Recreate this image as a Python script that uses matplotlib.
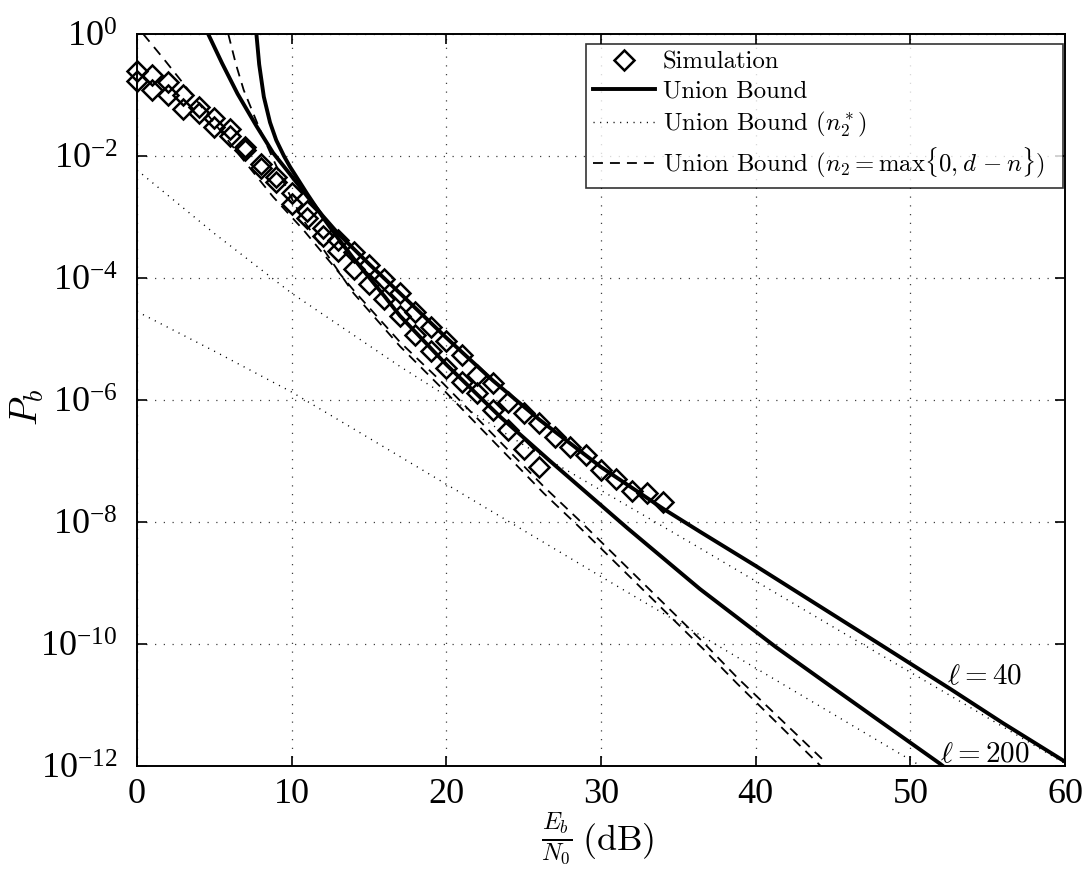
import numpy as np
import matplotlib.pyplot as plt

plt.rcParams['mathtext.fontset'] = 'custom'
plt.rcParams['mathtext.rm'] = 'Liberation Serif'
plt.rcParams['mathtext.it'] = 'Liberation Serif:italic'
plt.rcParams['font.family'] = 'Liberation Serif'

# Eb/N0 (dB) and log10(Pb)
sim40_x = np.arange(0, 35)
sim40_log = [-0.60, -0.67, -0.78, -1.00, -1.20, -1.37, -1.56, -1.85, -2.13, -2.34,
             -2.60, -2.91, -3.18, -3.37, -3.57, -3.79, -4.02, -4.25, -4.55, -4.80,
             -5.04, -5.26, -5.59, -5.73, -6.03, -6.22, -6.38, -6.60, -6.77, -6.90,
             -7.15, -7.29, -7.50, -7.53, -7.68]
sim200_x = np.arange(0, 27)
sim200_log = [-0.77, -0.92, -1.00, -1.23, -1.30, -1.52, -1.68, -1.90, -2.20, -2.42,
              -2.78, -3.02, -3.32, -3.55, -3.85, -4.10, -4.35, -4.62, -4.93, -5.20,
              -5.48, -5.70, -5.89, -6.16, -6.50, -6.80, -7.10]

ub40_x = [4.6, 5.5, 6.5, 7.7, 8.8, 9.9, 11, 12, 13, 14, 15, 17, 20, 23, 26, 30,
          34, 36.4, 40, 45, 48, 52.6, 56, 60]
ub40_log = [0, -0.48, -0.98, -1.50, -1.95, -2.30, -2.66, -2.98, -3.27, -3.52, -3.77,
            -4.25, -4.98, -5.68, -6.32, -7.10, -7.78, -8.16, -8.72, -9.52, -10.00,
            -10.74, -11.30, -11.93]
ub200_x = [7.72, 7.9, 8.2, 8.6, 9.0, 9.5, 9.9, 10.5, 11, 12, 13, 14, 15, 16, 17, 20,
           23.5, 26.7, 31.7, 36.4, 41.3, 45, 48, 51.9, 52.2]
ub200_log = [0, -0.50, -1.03, -1.45, -1.74, -2.00, -2.18, -2.42, -2.62, -3.00, -3.35,
             -3.68, -3.99, -4.30, -4.62, -5.42, -6.28, -7.00, -8.10, -9.10, -10.05,
             -10.72, -11.26, -11.96, -12.02]

n2s40_x = [0, 5, 10, 17, 25.2, 36.4, 45, 52.6, 60]
n2s40_log = [-2.23, -3.27, -4.25, -5.45, -6.77, -8.43, -9.72, -10.85, -11.96]
n2s200_x = [0, 5, 10, 15.3, 22.1, 29.9, 37.5, 48, 51]
n2s200_log = [-4.55, -5.20, -5.87, -6.67, -7.70, -8.88, -10.02, -11.60, -12.05]

n2m40_x = [0.4, 1.7, 2.8, 6.7, 8.8, 10.75, 14, 17, 19.8, 26.3, 28.5, 36.6, 38.8, 44.6]
n2m40_log = [0, -0.40, -0.75, -2.01, -2.67, -3.21, -4.20, -5.05, -5.73, -7.42, -7.95,
             -9.97, -10.55, -11.96]
n2m200_x = [5.9, 6.4, 6.9, 7.95, 8.8, 9.8, 10.75, 14, 17, 19.8, 26.3, 28.5, 36.6, 38.8, 44.2]
n2m200_log = [0, -0.50, -0.92, -1.57, -2.05, -2.60, -3.05, -4.25, -5.12, -5.83, -7.53,
              -8.06, -10.08, -10.65, -12.0]

fig = plt.figure(figsize=(10.89, 8.71), dpi=100)
ax = fig.add_axes([0.1258, 0.1206, 0.8522, 0.8404])

def p(v):
    return 10.0 ** np.asarray(v)

ax.semilogy(sim40_x, p(sim40_log), 'kD', mfc='none', mew=1.8, ms=10, clip_on=False,
            label='Simulation')
ax.semilogy(sim200_x, p(sim200_log), 'kD', mfc='none', mew=1.8, ms=10, clip_on=False)
ax.semilogy(ub40_x, p(ub40_log), 'k-', lw=2.8, label='Union Bound')
ax.semilogy(ub200_x, p(ub200_log), 'k-', lw=2.8)
ax.semilogy(n2s40_x, p(n2s40_log), 'k', lw=1.0, dashes=(0.8, 4),
            label=r'Union Bound ($n_2^*$)')
ax.semilogy(n2s200_x, p(n2s200_log), 'k', lw=1.0, dashes=(0.8, 4))
ax.semilogy(n2m40_x, p(n2m40_log), 'k', lw=1.3, dashes=(5.5, 3.9),
            label=r'Union Bound ($n_2 = \max\{0, d\, - n\}$)  ')
ax.semilogy(n2m200_x, p(n2m200_log), 'k', lw=1.3, dashes=(5.5, 3.9))

ax.set_xlim(0, 60)
ax.set_ylim(1e-12, 1)
ax.set_xticks(np.arange(0, 61, 10))
ax.set_yticks(10.0 ** np.arange(-12, 1, 2))
ax.yaxis.set_minor_locator(plt.NullLocator())
ax.grid(True, which='major', linestyle=(0, (1, 6)), color='k', lw=0.9, alpha=0.75)
ax.tick_params(direction='in', length=7, width=1.2, top=True, right=True, labelsize=26)
ax.tick_params(axis='x', pad=9)
ax.tick_params(axis='y', pad=14)
for s in ax.spines.values():
    s.set_linewidth(1.4)

# x label: fraction plus "(dB)"
ax.set_xlabel(r'$\frac{E_b}{N_0}$', fontsize=25, math_fontfamily='cm')
ax.xaxis.set_label_coords((557 - 137) / 928, -0.100)
ax.xaxis.label.set_va('center')
ax.text((582 - 137) / 928, (766 - 841) / 732, r'$\mathrm{(dB)}$', fontsize=26,
        math_fontfamily='cm', transform=ax.transAxes, ha='left', va='center')
ax.set_ylabel(r'$P_b$', fontsize=27, math_fontfamily='cm')
ax.yaxis.set_label_coords(-0.1185, 0.49)
ax.yaxis.label.set_va('center')

ax.text(52.4, 10 ** -10.54, r'$\ell = 40$', fontsize=21, math_fontfamily='cm', va='center')
ax.text(51.9, 10 ** -11.82, r'$\ell = 200$', fontsize=21, math_fontfamily='cm', va='center')

leg = ax.legend(loc='upper right', bbox_to_anchor=(1 - 2 / 928, 1 - 10 / 732),
                borderaxespad=0, fontsize=17.8, frameon=True, fancybox=False,
                edgecolor='k', borderpad=0.3, handlelength=2.5, handletextpad=0.32,
                labelspacing=0.28)
leg.get_frame().set_linewidth(1.2)
for t in leg.get_texts():
    t.set_math_fontfamily('cm')
    t.set_family('cmr10')

fig.savefig('out.png', dpi=100)
